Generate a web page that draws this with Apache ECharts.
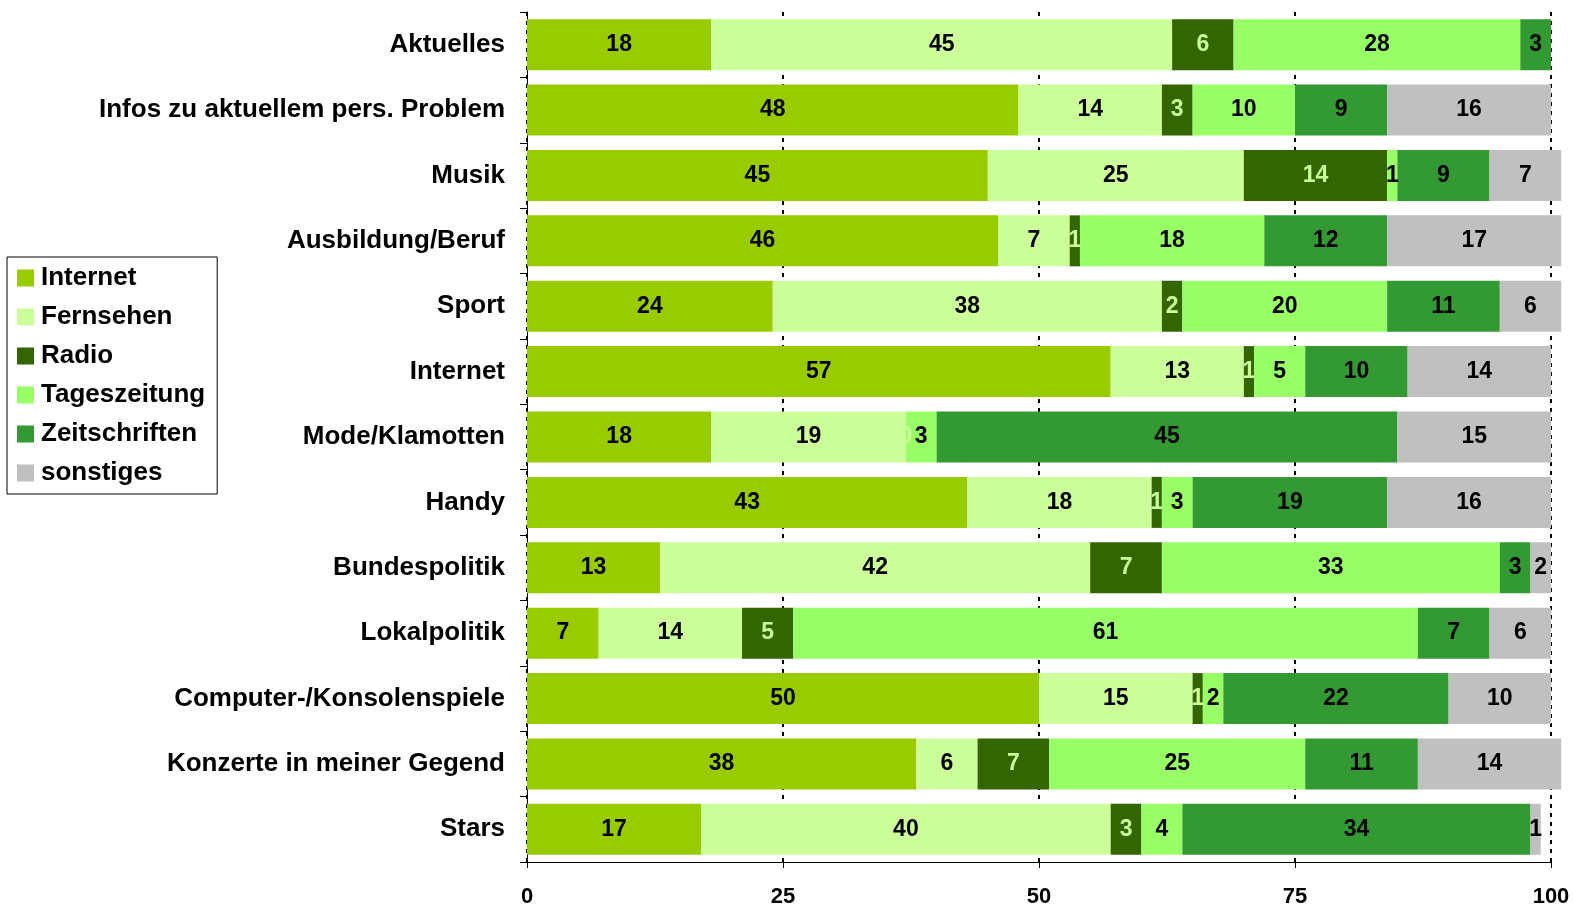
<!DOCTYPE html>
<html>
<head>
<meta charset="utf-8">
<script src="https://cdn.jsdelivr.net/npm/echarts@6/dist/echarts.min.js"></script>
<style>
  html, body { margin: 0; padding: 0; background: #fff; }
  #chart { width: 1573px; height: 908px; }
</style>
</head>
<body>
<div id="chart"></div>
<script>
// Themen (von oben nach unten)
const categories = [
  "Aktuelles", "Infos zu aktuellem pers. Problem", "Musik", "Ausbildung/Beruf",
  "Sport", "Internet", "Mode/Klamotten", "Handy", "Bundespolitik",
  "Lokalpolitik", "Computer-/Konsolenspiele", "Konzerte in meiner Gegend", "Stars"
];
const internet      = [18, 48, 45, 46, 24, 57, 18, 43, 13,  7, 50, 38, 17];
const fernsehen     = [45, 14, 25,  7, 38, 13, 19, 18, 42, 14, 15,  6, 40];
const radio         = [ 6,  3, 14,  1,  2,  1,  0,  1,  7,  5,  1,  7,  3];
const tageszeitung  = [28, 10,  1, 18, 20,  5,  3,  3, 33, 61,  2, 25,  4];
const zeitschriften = [ 3,  9,  9, 12, 11, 10, 45, 19,  3,  7, 22, 11, 34];
const sonstiges     = ['-', 16, 7, 17,  6, 14, 15, 16,  2,  6, 10, 14,  1];
const xTicks = [0, 25, 50, 75, 100];

const font = "'Liberation Sans', Arial, sans-serif";
const chart = echarts.init(document.getElementById("chart"));

function mkSeries(name, data, color, labelColor) {
  return {
    name: name,
    type: "bar",
    stack: "total",
    data: data,
    clip: false,
    barCategoryGap: "22%",
    itemStyle: { color: color },
    label: {
      show: true,
      position: "inside",
      color: labelColor || "#000",
      fontFamily: font,
      fontWeight: "bold",
      fontSize: 23,
      formatter: function (p) { return p.value === "-" ? "" : p.value; }
    }
  };
}

chart.setOption({
  animation: false,
  textStyle: { fontFamily: font },
  grid: { left: 527, right: 22, top: 12, bottom: 45 },
  legend: {
    orient: "vertical",
    left: 7,
    top: 257,
    padding: [8, 12, 8, 10],
    itemWidth: 17,
    itemHeight: 17,
    itemGap: 13,
    icon: "rect",
    borderColor: "#000",
    borderWidth: 1,
    textStyle: { fontFamily: font, fontWeight: "bold", fontSize: 26, color: "#000", padding: [0, 0, 0, 2] },
    data: ["Internet", "Fernsehen", "Radio", "Tageszeitung", "Zeitschriften", "sonstiges"]
  },
  xAxis: {
    type: "value",
    min: xTicks[0],
    max: xTicks[xTicks.length - 1],
    interval: 25,
    axisLine: { show: true, lineStyle: { color: "#000", width: 1 } },
    axisTick: { show: true, length: 6, lineStyle: { color: "#000" } },
    axisLabel: { color: "#000", fontFamily: font, fontWeight: "bold", fontSize: 22, margin: 24 },
    splitLine: { show: true, lineStyle: { color: "#000", width: 2, type: [4, 5] } }
  },
  yAxis: {
    type: "category",
    inverse: true,
    data: categories,
    axisLine: { show: true, lineStyle: { color: "#000", width: 1 } },
    axisTick: { show: true, length: 7, lineStyle: { color: "#000" } },
    axisLabel: { color: "#000", fontFamily: font, fontWeight: "bold", fontSize: 26, margin: 22 }
  },
  series: [
    mkSeries("Internet", internet, "#99cc00"),
    mkSeries("Fernsehen", fernsehen, "#ccff99"),
    mkSeries("Radio", radio, "#336600", "#ccff99"),
    mkSeries("Tageszeitung", tageszeitung, "#99ff66"),
    mkSeries("Zeitschriften", zeitschriften, "#339933"),
    mkSeries("sonstiges", sonstiges, "#c0c0c0")
  ]
});
</script>
</body>
</html>
